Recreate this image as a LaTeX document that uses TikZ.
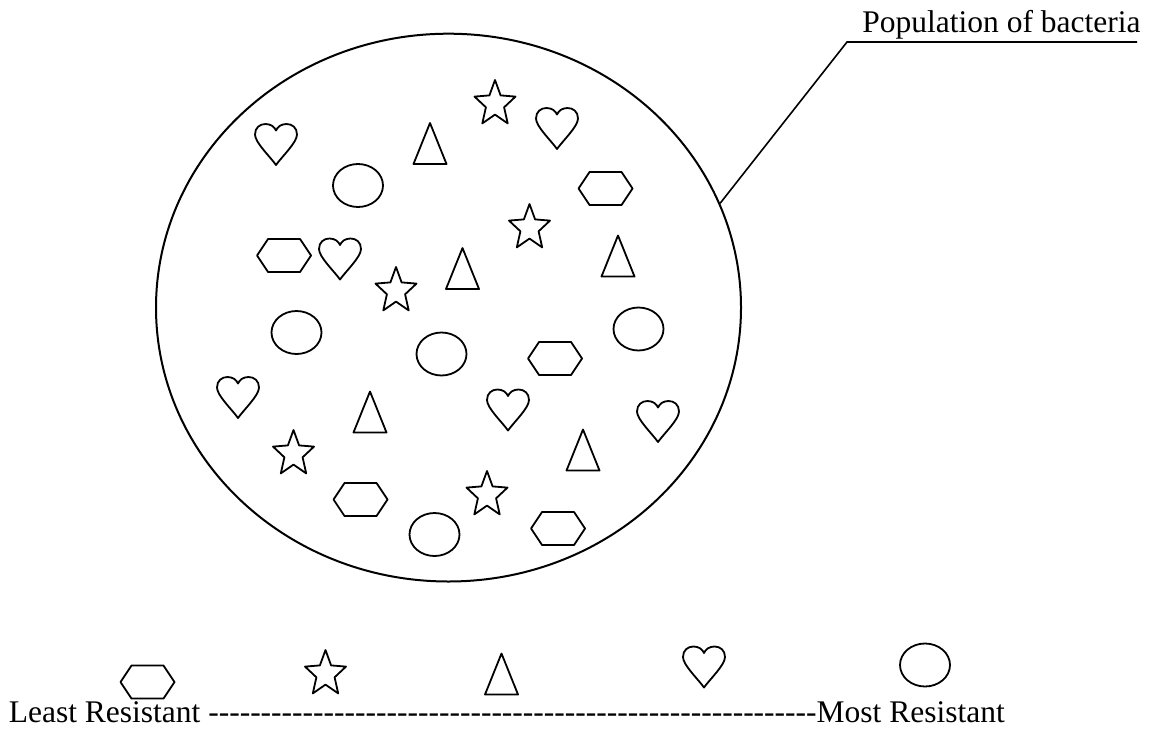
\documentclass[tikz,border=0pt]{standalone}
\usepackage{fontspec}
\setmainfont{Liberation Serif}
\usetikzlibrary{shapes.geometric}
\tikzset{
  shp/.style={draw=black, line width=0.9pt, line join=round},
  heartpic/.pic={\draw[shp] (0,20.5) .. controls (-6,12) and (-21,-2) .. (-21,-10)
      .. controls (-21,-17) and (-16,-20.5) .. (-10.5,-20.5)
      .. controls (-5,-20.5) and (-1.5,-17.5) .. (0,-14)
      .. controls (1.5,-17.5) and (5,-20.5) .. (10.5,-20.5)
      .. controls (16,-20.5) and (21,-17) .. (21,-10)
      .. controls (21,-2) and (6,12) .. (0,20.5) -- cycle;},
  starpic/.pic={\draw[shp] (0,-24) -- (5.6,-8.6) -- (20.5,-7.4) -- (9.1,3.3) -- (12.7,19.4)
      -- (0,10.6) -- (-12.7,19.4) -- (-9.1,3.3) -- (-20.5,-7.4) -- (-5.6,-8.6) -- cycle;},
  hexpic/.pic={\draw[shp] (-27,0) -- (-16,-16.5) -- (16,-16.5) -- (27,0) -- (16,16.5) -- (-16,16.5) -- cycle;},
  tripic/.pic={\draw[shp] (0,-20.5) -- (16.5,20.5) -- (-16.5,20.5) -- cycle;},
  ovalpic/.pic={\draw[shp] (0,0) ellipse [x radius=12.5pt, y radius=10.75pt];},
  txt/.style={anchor=base west, inner sep=0pt, font=\fontsize{15.75}{18}\selectfont},
  lead/.style={draw=black, line width=0.8pt}
}
\begin{document}
\begin{tikzpicture}[x=0.5pt, y=-0.5pt]
\useasboundingbox (0,0) rectangle (1155,749);
\fill[white] (0,0) rectangle (1155,749);
% population
\node[ellipse, draw=black, line width=1pt, inner sep=0pt, minimum width=292.5pt, minimum height=273.9pt] (pop) at (448.5,307.6) {};
% label
\node[txt] (poplabel) at (862,33) {Population of bacteria};
\coordinate (elbow) at (847,42);
\coordinate (lineend) at (1137,42);
\draw[lead] (pop.21.6) -- (elbow) -- (lineend);
% hearts
\pic (h1) at (276,144.5) {heartpic};
\pic (h2) at (557,128.5) {heartpic};
\pic (h3) at (340,259) {heartpic};
\pic (h4) at (238,397.5) {heartpic};
\pic (h5) at (508,410) {heartpic};
\pic (h6) at (658,421.5) {heartpic};
% ovals
\pic (o1) at (358,185.5) {ovalpic};
\pic (o2) at (296.5,332.5) {ovalpic};
\pic (o3) at (441.5,354) {ovalpic};
\pic (o4) at (638.5,329) {ovalpic};
\pic (o5) at (434.5,534.5) {ovalpic};
% triangles
\pic (t1) at (430,143.5) {tripic};
\pic (t2) at (462.5,268.5) {tripic};
\pic (t3) at (618,256) {tripic};
\pic (t4) at (370,412) {tripic};
\pic (t5) at (583,450) {tripic};
% stars
\pic (s1) at (495,104) {starpic};
\pic (s2) at (529.5,228) {starpic};
\pic (s3) at (396,291) {starpic};
\pic (s4) at (293.5,454) {starpic};
\pic (s5) at (487,495) {starpic};
% hexagons
\pic (x1) at (605.5,188.5) {hexpic};
\pic (x2) at (284,255.5) {hexpic};
\pic (x3) at (555,358.5) {hexpic};
\pic (x4) at (360.5,499.5) {hexpic};
\pic (x5) at (558,528.5) {hexpic};
% legend
\pic (lx) at (147.5,682) {hexpic};
\pic (ls) at (325.5,674) {starpic};
\pic (lt) at (501.5,674) {tripic};
\pic (lh) at (704,667) {heartpic};
\pic (lo) at (925,665) {ovalpic};
\node[txt] (scale) at (8.4,722) {Least Resistant \foreach \i in {1,...,58}{-\kern0pt}Most Resistant};
\end{tikzpicture}
\end{document}
